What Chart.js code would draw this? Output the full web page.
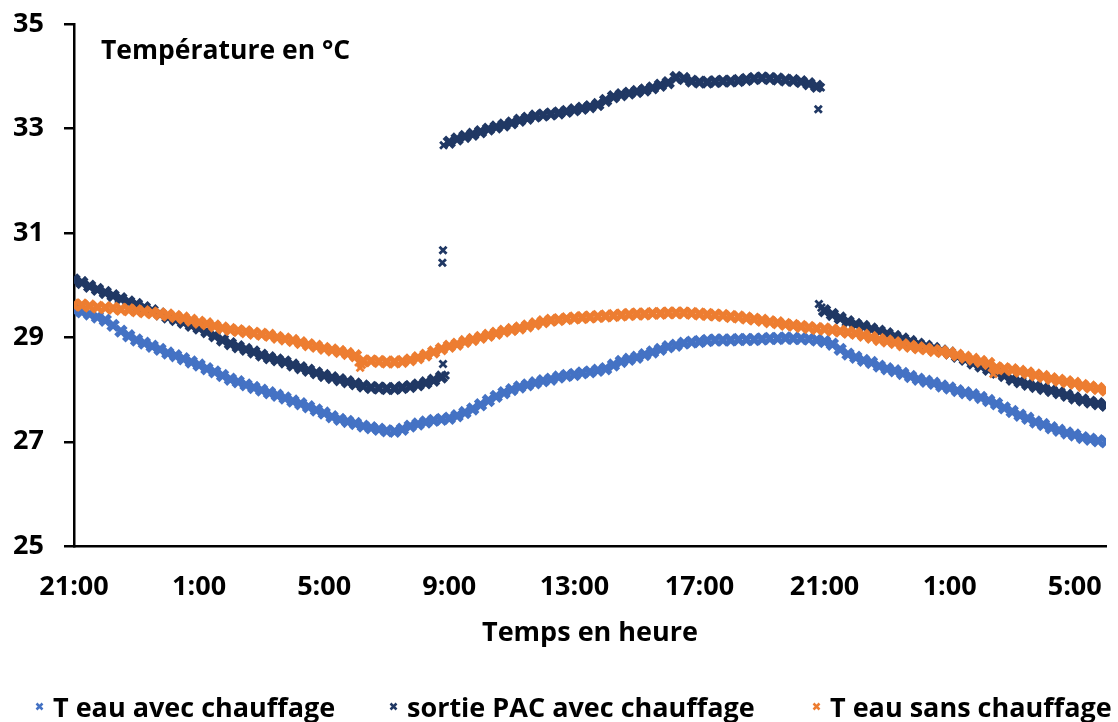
<!DOCTYPE html>
<html><head><meta charset="utf-8">
<script src="https://cdn.jsdelivr.net/npm/chart.js@4.4.0/dist/chart.umd.min.js"></script>
<style>
html,body{margin:0;padding:0;background:#fff;}
#wrap{position:relative;width:1118px;height:722px;font-family:'Open Sans',sans-serif;font-weight:700;font-size:27px;color:#000;overflow:hidden;}
#c{position:absolute;left:0;top:0;}
.lbl{position:absolute;line-height:27px;white-space:nowrap;font-size:26.5px;}
.leg{position:absolute;top:693px;display:flex;align-items:center;line-height:27px;white-space:nowrap;}
.leg svg{margin-right:9px;}
</style></head><body>
<div id="wrap">
<canvas id="c" width="1118" height="722"></canvas>
<div class="lbl" id="ytitle" style="left:101px;top:36px">Température en °C</div>
<div id="legend"></div>
</div>
<script>
// Hours elapsed since 21:00 (sampling every 15 min)
const TIME = [0,0.25,0.5,0.75,1,1.25,1.5,1.75,2,2.25,2.5,2.75,3,3.25,3.5,3.75,4,4.25,4.5,4.75,5,5.25,5.5,5.75,6,6.25,6.5,6.75,7,7.25,7.5,7.75,8,8.25,8.5,8.75,9,9.25,9.5,9.75,10,10.25,10.5,10.75,11,11.25,11.5,11.75,12,12.25,12.5,12.75,13,13.25,13.5,13.75,14,14.25,14.5,14.75,15,15.25,15.5,15.75,16,16.25,16.5,16.75,17,17.25,17.5,17.75,18,18.25,18.5,18.75,19,19.25,19.5,19.75,20,20.25,20.5,20.75,21,21.25,21.5,21.75,22,22.25,22.5,22.75,23,23.25,23.5,23.75,24,24.25,24.5,24.75,25,25.25,25.5,25.75,26,26.25,26.5,26.75,27,27.25,27.5,27.75,28,28.25,28.5,28.75,29,29.25,29.5,29.75,30,30.25,30.5,30.75,31,31.25,31.5,31.75,32,32.25,32.5,32.75,33];
const TICK_LABELS = ['21:00','1:00','5:00','9:00','13:00','17:00','21:00','1:00','5:00'];
const SERIES_NAMES = ['T eau avec chauffage','sortie PAC avec chauffage','T eau sans chauffage'];
const X_TITLE = 'Temps en heure';
const Y_TITLE = 'Température en °C';

const T_EAU_AVEC = [29.52,29.49,29.45,29.39, 29.33,29.23,29.12,29.03, 28.95,28.89,28.83,28.77, 28.70,28.65,28.59,28.53,
 28.47,28.40,28.34,28.27, 28.20,28.15,28.09,28.04, 27.99,27.94,27.89,27.84, 27.78,27.73,27.67,27.61,
 27.55,27.48,27.43,27.39, 27.35,27.30,27.27,27.24, 27.21,27.20,27.24,27.30, 27.34,27.38,27.41,27.43,
 27.45,27.50,27.56,27.63, 27.71,27.79,27.87,27.94, 28.00,28.05,28.09,28.13, 28.17,28.20,28.24,28.27,
 28.29,28.32,28.34,28.37, 28.40,28.47,28.54,28.58, 28.62,28.67,28.72,28.77, 28.82,28.85,28.89,28.91,
 28.92,28.94,28.95,28.95, 28.95,28.96,28.96,28.96, 28.97,28.98,28.98,28.99, 28.98,28.98,28.97,28.95,
 28.92,28.87,28.77,28.68, 28.62,28.56,28.52,28.45, 28.40,28.36,28.31,28.25, 28.20,28.16,28.12,28.07,
 28.03,27.98,27.94,27.90, 27.85,27.79,27.73,27.65, 27.58,27.51,27.45,27.38, 27.33,27.27,27.22,27.17,
 27.13,27.08,27.05,27.02, 27.00];

const SORTIE_PAC = [30.10,30.05,29.98,29.92, 29.86,29.80,29.74,29.68, 29.63,29.57,29.51,29.45, 29.39,29.34,29.29,29.23,
 29.18,29.11,29.03,28.95, 28.88,28.82,28.77,28.72, 28.66,28.61,28.57,28.53, 28.47,28.42,28.37,28.32,
 28.27,28.23,28.19,28.15, 28.11,28.07,28.04,28.03, 28.02,28.02,28.04,28.06, 28.09,28.13,28.18,28.24,
 32.74,32.80,32.85,32.89, 32.94,32.99,33.03,33.07, 33.11,33.16,33.20,33.24, 33.26,33.28,33.30,33.33,
 33.36,33.39,33.42,33.46, 33.54,33.61,33.65,33.68, 33.71,33.74,33.78,33.83, 33.88,33.98,33.96,33.91,
 33.89,33.89,33.90,33.91, 33.91,33.92,33.94,33.96, 33.97,33.96,33.95,33.93, 33.92,33.90,33.86,33.81,
 29.51,29.44,29.37,29.30, 29.25,29.21,29.16,29.12, 29.07,29.02,28.97,28.92, 28.87,28.83,28.79,28.74,
 28.70,28.64,28.58,28.51, 28.45,28.39,28.33,28.27, 28.20,28.15,28.10,28.06, 28.02,27.98,27.94,27.89,
 27.84,27.80,27.76,27.73, 27.70];
// isolated readings around the switch-on (~8:50) and switch-off (~20:50)
const PAC_EXTRA_TIME  = [11.80,11.78,11.80,11.82,11.88,23.80,23.82,23.88,23.90];
const PAC_EXTRA_VALUE = [28.49,30.43,30.67,32.68,28.27,33.37,29.64,33.79,29.57];

const T_EAU_SANS = [29.62,29.62,29.60,29.58, 29.57,29.56,29.54,29.53, 29.51,29.49,29.47,29.45, 29.43,29.40,29.37,29.33,
 29.29,29.26,29.22,29.18, 29.15,29.13,29.11,29.08, 29.06,29.04,29.00,28.97, 28.94,28.90,28.86,28.83,
 28.79,28.76,28.73,28.69, 28.65,28.55,28.55,28.54, 28.53,28.53,28.54,28.57, 28.61,28.66,28.72,28.78,
 28.83,28.87,28.92,28.96, 29.00,29.04,29.08,29.12, 29.15,29.18,29.22,29.26, 29.30,29.33,29.34,29.36,
 29.37,29.38,29.39,29.40, 29.41,29.42,29.43,29.44, 29.45,29.45,29.46,29.46, 29.47,29.47,29.47,29.46,
 29.45,29.44,29.43,29.42, 29.40,29.39,29.37,29.35, 29.33,29.30,29.28,29.25, 29.23,29.21,29.19,29.17,
 29.16,29.14,29.12,29.10, 29.08,29.04,29.00,28.96, 28.93,28.90,28.86,28.83, 28.80,28.78,28.75,28.73,
 28.70,28.66,28.62,28.58, 28.54,28.50,28.42,28.40, 28.38,28.35,28.32,28.28, 28.25,28.21,28.18,28.15,
 28.12,28.08,28.05,28.02, 27.99];
const SANS_EXTRA_TIME  = [9.10,9.15,9.20,29.35,29.40,29.45];
const SANS_EXTRA_VALUE = [28.52,28.42,28.47,28.42,28.30,28.36];

const COLORS = ['#4472C4','#203864','#ED7D31'];
const FONT = {family:'Open Sans', weight:'bold', size:27};

function pts(times, vals){ return vals.map((v,i)=>({x:times[i], y:v})); }

const datasets = [
  {label:SERIES_NAMES[0], data:pts(TIME,T_EAU_AVEC), order:3},
  {label:SERIES_NAMES[1], data:pts(TIME,SORTIE_PAC).concat(pts(PAC_EXTRA_TIME,PAC_EXTRA_VALUE)), order:2},
  {label:SERIES_NAMES[2], data:pts(TIME,T_EAU_SANS).concat(pts(SANS_EXTRA_TIME,SANS_EXTRA_VALUE)), order:1}
].map((d,i)=>Object.assign(d,{
  showLine:false, pointStyle:'crossRot',
  pointRadius:(c)=> c.dataIndex >= TIME.length ? 5 : 7,
  pointBorderWidth:(c)=> c.dataIndex >= TIME.length ? 2.8 : 5,
  borderColor:COLORS[i], backgroundColor:COLORS[i], pointBorderColor:COLORS[i]
}));

new Chart(document.getElementById('c'), {
  type:'scatter',
  data:{datasets},
  options:{
    responsive:false, animation:false, devicePixelRatio:1, events:[],
    layout:{padding:{left:13,right:11,top:24,bottom:72}},
    plugins:{legend:{display:false}, tooltip:{enabled:false}},
    scales:{
      x:{type:'linear', min:0, max:33,
        ticks:{stepSize:4, includeBounds:false, padding:5, color:'#000', font:FONT, maxRotation:0, autoSkip:false,
          callback:(v)=>TICK_LABELS[Math.round(v/4)]},
        grid:{display:true, drawOnChartArea:false, drawTicks:true, tickLength:20, tickColor:'rgba(0,0,0,0)', color:'rgba(0,0,0,0)'},
        border:{display:true, color:'#000', width:2.5},
        title:{display:true, text:X_TITLE, color:'#000', font:FONT, padding:{top:9,bottom:0}}
      },
      y:{min:25, max:35,
        afterFit:(s)=>{ s.width = 61; },
        ticks:{stepSize:2, padding:8, crossAlign:'far', color:'#000', font:FONT},
        grid:{display:true, drawOnChartArea:false, drawTicks:true, tickLength:10, color:'#000', tickColor:'#000', lineWidth:2.5},
        border:{display:true, color:'#000', width:2.5}
      }
    }
  }
});

document.getElementById('ytitle').textContent = Y_TITLE;
const LEG_LEFT = [35, 389, 812];
const leg = document.getElementById('legend');
SERIES_NAMES.forEach((n,i)=>{
  const d = document.createElement('div');
  d.className='leg'; d.style.left = LEG_LEFT[i]+'px';
  d.innerHTML = '<svg width="9" height="9" viewBox="0 0 9 9"><path d="M1.5 1.5L7.5 7.5M7.5 1.5L1.5 7.5" stroke="'+COLORS[i]+'" stroke-width="2.5"/></svg><span>'+n+'</span>';
  leg.appendChild(d);
});
</script>
</body></html>
